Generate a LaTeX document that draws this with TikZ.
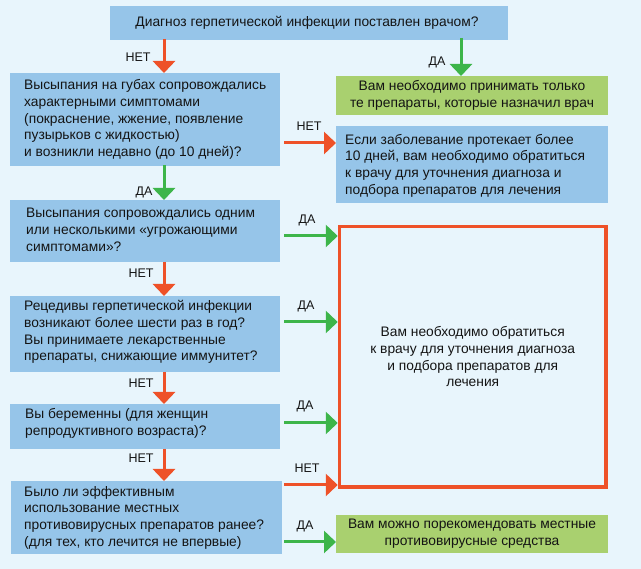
\documentclass[tikz,border=0pt]{standalone}
\usepackage{fontspec}
\setmainfont{Liberation Sans}
\usetikzlibrary{arrows.meta}
\definecolor{bg}{HTML}{E8F5FC}
\definecolor{boxblue}{HTML}{96C5E9}
\definecolor{boxgreen}{HTML}{A9D06F}
\definecolor{ared}{HTML}{EE5128}
\definecolor{agreen}{HTML}{3DB54A}
\definecolor{txt}{HTML}{141414}
\tikzset{
  bbox/.style={fill=boxblue, draw=none, inner sep=0pt, outer sep=0pt},
  gbox/.style={fill=boxgreen, draw=none, inner sep=0pt, outer sep=0pt},
  qtext/.style={inner sep=0pt, align=left, text=txt, font=\fontsize{13.8}{16.7}\selectfont},
  ctext/.style={inner sep=0pt, align=center, text=txt, font=\fontsize{13.8}{16.7}\selectfont},
  lab/.style={inner sep=0pt, text=txt, font=\fontsize{12.5}{14}\selectfont},
  rarr/.style={draw=ared, line width=3pt, -{Triangle[length=12pt,width=22pt]}, ared},
  garr/.style={draw=agreen, line width=3pt, -{Triangle[length=12pt,width=22pt]}, agreen},
}
\begin{document}
\begin{tikzpicture}[x=1pt,y=-1pt]
\fill[bg] (0,0) rectangle (641,569);
\useasboundingbox (0,0) rectangle (641,569);
% boxes
\node[bbox, minimum width=398, minimum height=34, anchor=north west] (q1) at (110,6) {};
\node[ctext] (q1t) at ([xshift=-2pt]q1.center) {Диагноз герпетической инфекции поставлен врачом?};

\node[bbox, minimum width=270, minimum height=93, anchor=north west] (q2) at (10,73) {};
\node[qtext, anchor=west] (q2t) at ([xshift=14pt]q2.west) {Высыпания на губах сопровождались\\характерными симптомами\\(покраснение, жжение, появление\\пузырьков с жидкостью)\\и возникли недавно (до 10 дней)?};

\node[bbox, minimum width=270, minimum height=62, anchor=north west] (q3) at (10,200) {};
\node[qtext, anchor=west] (q3t) at ([xshift=16pt,yshift=1pt]q3.west) {Высыпания сопровождались одним\\или несколькими «угрожающими\\симптомами»?};

\node[bbox, minimum width=270, minimum height=76, anchor=north west] (q4) at (10,296) {};
\node[qtext, anchor=west] (q4t) at ([xshift=14pt,yshift=2pt]q4.west) {Рецедивы герпетической инфекции\\возникают более шести раз в год?\\Вы принимаете лекарственные\\препараты, снижающие иммунитет?};

\node[bbox, minimum width=270, minimum height=45, anchor=north west] (q5) at (10,404) {};
\node[qtext, anchor=west] (q5t) at ([xshift=15pt,yshift=3pt]q5.west) {Вы беременны (для женщин\\репродуктивного возраста)?};

\node[bbox, minimum width=271, minimum height=73, anchor=north west] (q6) at (11,481) {};
\node[qtext, anchor=west] (q6t) at ([xshift=13pt]q6.west) {Было ли эффективным\\использование местных\\противовирусных препаратов ранее?\\(для тех, кто лечится не впервые)};

\node[gbox, minimum width=272, minimum height=39, anchor=north west] (g1) at (336,76) {};
\node[ctext] (g1t) at (g1.center) {Вам необходимо принимать только\\те препараты, которые назначил врач};

\node[bbox, minimum width=272, minimum height=77, anchor=north west] (r2) at (336,126) {};
\node[qtext, anchor=west] (r2t) at ([xshift=9pt,yshift=-1pt]r2.west) {Если заболевание протекает более\\10 дней, вам необходимо обратиться\\к врачу для уточнения диагноза и\\подбора препаратов для лечения};

\node[draw=ared, line width=3.5pt, fill=none, minimum width=266.5pt, minimum height=260.5pt, inner sep=0pt, anchor=north west] (rb) at (337.75,224.75) {};
\node[ctext] (rbt) at (rb.center) {Вам необходимо обратиться\\к врачу для уточнения диагноза\\и подбора препаратов для\\лечения};

\node[gbox, minimum width=272, minimum height=38, anchor=north west] (g2) at (336,515) {};
\node[ctext] (g2t) at (g2.center) {Вам можно порекомендовать местные\\противовирусные средства};

% x reference coordinates
\coordinate (lx) at (164,0);
\coordinate (dx) at (461,0);

% vertical arrows
\draw[rarr] ([yshift=1pt]q1.south -| lx) -- (q2.north -| lx);
\draw[garr] ([yshift=2pt]q1.south -| dx) -- (g1.north -| dx);
\draw[garr] ([yshift=1pt]q2.south -| lx) -- (q3.north -| lx);
\draw[rarr] ([yshift=0pt]q3.south -| lx) -- (q4.north -| lx);
\draw[rarr] ([yshift=0pt]q4.south -| lx) -- (q5.north -| lx);
\draw[rarr] ([yshift=0pt]q5.south -| lx) -- (q6.north -| lx);

% horizontal arrows
\draw[rarr] ([xshift=4pt]q2.east |- 0,143) -- (r2.west |- 0,143);
\draw[garr] ([xshift=4pt]q3.east |- 0,236) -- (rb.west |- 0,236);
\draw[garr] ([xshift=4pt]q4.east |- 0,322) -- (rb.west |- 0,322);
\draw[garr] ([xshift=4pt]q5.east |- 0,423) -- (rb.west |- 0,423);
\draw[rarr] ([xshift=2pt]q6.east |- 0,485) -- (rb.west |- 0,485);
\draw[garr] ([xshift=2pt]q6.east |- 0,542) -- (g2.west |- 0,542);

% labels
\node[lab] (l1) at (138,57) {НЕТ};
\node[lab] (l2) at (437,62) {ДА};
\node[lab] (l3) at (309,126) {НЕТ};
\node[lab] (l4) at (144,192) {ДА};
\node[lab] (l5) at (307,220) {ДА};
\node[lab] (l6) at (141,273) {НЕТ};
\node[lab] (l7) at (306,306) {ДА};
\node[lab] (l8) at (141,383) {НЕТ};
\node[lab] (l9) at (305,406) {ДА};
\node[lab] (l10) at (141,458) {НЕТ};
\node[lab] (l11) at (307,468) {НЕТ};
\node[lab] (l12) at (305,526) {ДА};
\end{tikzpicture}
\end{document}
